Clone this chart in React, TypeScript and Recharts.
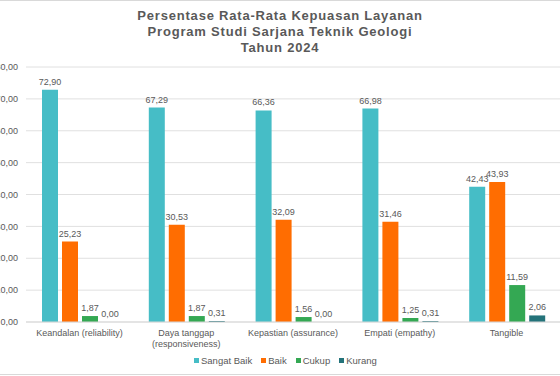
import React from 'react';
import { BarChart, Bar, XAxis, YAxis, CartesianGrid, Legend, LabelList } from 'recharts';

// data
const categories = [
    'Keandalan (reliability)',
    'Daya tanggap (responsiveness)',
    'Kepastian (assurance)',
    'Empati (empathy)',
    'Tangible'
];
const tickLines = [
    ['Keandalan (reliability)'],
    ['Daya tanggap', '(responsiveness)'],
    ['Kepastian (assurance)'],
    ['Empati (empathy)'],
    ['Tangible']
];
const sangatBaik = [72.90, 67.29, 66.36, 66.98, 42.43];
const baik = [25.23, 30.53, 32.09, 31.46, 43.93];
const cukup = [1.87, 1.87, 1.56, 1.25, 11.59];
const kurang = [0.00, 0.31, 0.00, 0.31, 2.06];
const yTicks = [0, 10, 20, 30, 40, 50, 60, 70, 80];

const seriesList = [
    { key: 'sangatBaik', name: 'Sangat Baik', color: '#46BDC6' },
    { key: 'baik', name: 'Baik', color: '#FF6D01' },
    { key: 'cukup', name: 'Cukup', color: '#34A853' },
    { key: 'kurang', name: 'Kurang', color: '#24737A' }
];

const chartData = categories.map((name, i) => ({
    name,
    sangatBaik: sangatBaik[i],
    baik: baik[i],
    cukup: cukup[i],
    kurang: kurang[i]
}));

const FONT = '"Liberation Sans", Arial, sans-serif';
const TEXT = '#595959';

const fmt = (v: any) => Number(v).toFixed(2).replace('.', ',');

// zero values still need a (invisible) bar so the "0,00" label shows
const tinyForZero = (value: any) => (Number(value) === 0 ? 0.01 : 0);

const CategoryTick = (props: any) => {
    const { x, y, payload } = props;
    const idx = categories.indexOf(payload.value);
    const lines = idx >= 0 ? tickLines[idx] : [String(payload.value)];
    return (
        <text x={x} y={y} textAnchor="middle" fill={TEXT} fontSize={9} fontFamily={FONT}>
            {lines.map((line, i) => (
                <tspan key={i} x={x} dy={i === 0 ? 6 : 11}>{line}</tspan>
            ))}
        </text>
    );
};

const LegendContent = () => (
    <div style={{ display: 'flex', height: 16, alignItems: 'center', fontFamily: FONT, fontSize: 9.5, color: TEXT }}>
        {seriesList.map(s => (
            <div key={s.key} style={{ display: 'flex', alignItems: 'center', marginRight: 9 }}>
                <span style={{ width: 5, height: 5, background: s.color, display: 'inline-block', marginRight: 2 }} />
                <span>{s.name}</span>
            </div>
        ))}
    </div>
);

export default function App() {
    return (
        <div style={{ position: 'fixed', left: 0, top: 0, width: 560, height: 376, overflow: 'hidden', background: '#fff' }}>
            <div style={{ position: 'absolute', left: 0, top: 0, width: 560, height: 1, background: '#d9d9d9' }} />
            <div style={{ position: 'absolute', left: 0, top: 374, width: 560, height: 1, background: '#d9d9d9' }} />
            <div style={{ position: 'absolute', left: -20, top: 0 }}>
                <BarChart
                    width={580}
                    height={376}
                    data={chartData}
                    margin={{ top: 67, right: 0, left: 0, bottom: 8 }}
                    barCategoryGap={16}
                    barGap={4}
                >
                    <CartesianGrid vertical={false} stroke="#e0e0e0" />
                    <XAxis
                        dataKey="name"
                        height={30}
                        tickLine={false}
                        axisLine={{ stroke: '#d9d9d9' }}
                        interval={0}
                        tick={<CategoryTick />}
                    />
                    <YAxis
                        width={46}
                        domain={[0, 80]}
                        ticks={yTicks}
                        tickFormatter={fmt}
                        tickLine={false}
                        axisLine={false}
                        tick={{ fill: TEXT, fontSize: 9, fontFamily: FONT }}
                    />
                    <Legend
                        verticalAlign="bottom"
                        content={<LegendContent />}
                        wrapperStyle={{ left: 214, width: 200 }}
                    />
                    {seriesList.map(s => (
                        <Bar
                            key={s.key}
                            dataKey={s.key}
                            name={s.name}
                            fill={s.color}
                            minPointSize={tinyForZero}
                            isAnimationActive={false}
                        >
                            <LabelList
                                dataKey={s.key}
                                position="top"
                                offset={5}
                                formatter={fmt}
                                fill={TEXT}
                                fontSize={9}
                                fontFamily={FONT}
                            />
                        </Bar>
                    ))}
                </BarChart>
            </div>
            <div style={{
                position: 'absolute', left: 0, top: 8, width: 560, textAlign: 'center',
                fontFamily: FONT, fontWeight: 'bold', fontSize: 13, letterSpacing: 0.8,
                lineHeight: '16px', color: TEXT
            }}>
                <div>Persentase Rata-Rata Kepuasan Layanan</div>
                <div>Program Studi Sarjana Teknik Geologi</div>
                <div>Tahun 2024</div>
            </div>
        </div>
    );
}
